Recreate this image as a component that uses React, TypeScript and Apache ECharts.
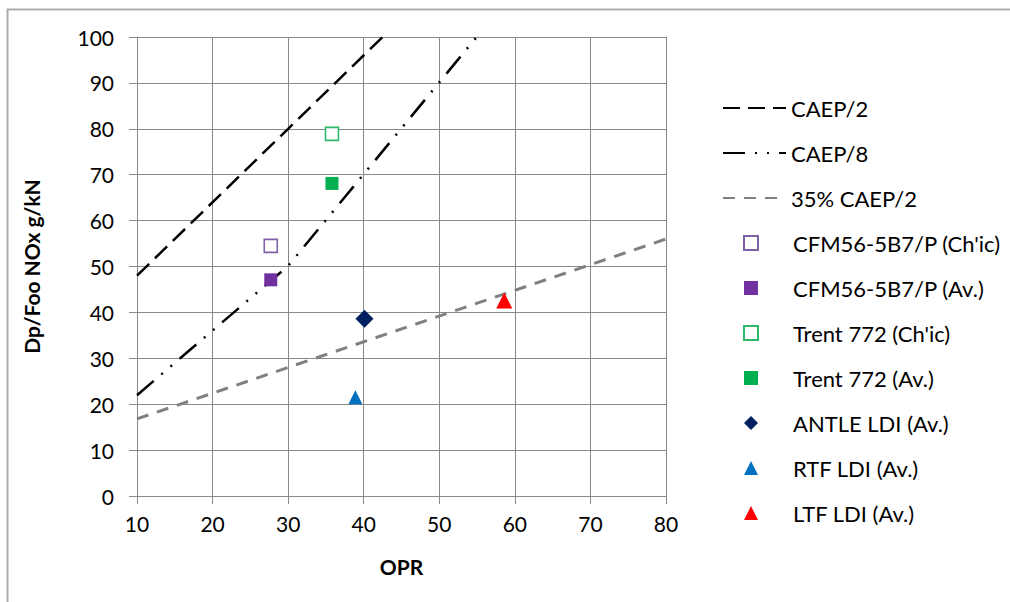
import React, { useEffect, useRef } from "react";
import * as echarts from "echarts";

// Regulatory lines (OPR, Dp/Foo)
const caep2: number[][] = [[10, 48], [30, 80], [42.5, 100]];
const caep8: number[][] = [[10, 21.96], [30, 50.12], [54.94, 100]];
const caep2x35: number[][] = [[10, 16.8], [30, 28], [80, 56]];

// Engine points
const cfmChar: number[][] = [[27.7, 54.5]];
const cfmAv: number[][] = [[27.7, 47.1]];
const trentChar: number[][] = [[35.8, 78.9]];
const trentAv: number[][] = [[35.8, 68.1]];
const antleAv: number[][] = [[40.1, 38.6]];
const rtfAv: number[][] = [[38.9, 21.5]];
const ltfAv: number[][] = [[58.6, 42.6]];

const lineNames = ["CAEP/2", "CAEP/8", "35% CAEP/2"];
const pointNames = [
  "CFM56-5B7/P (Ch'ic)",
  "CFM56-5B7/P (Av.)",
  "Trent 772 (Ch'ic)",
  "Trent 772 (Av.)",
  "ANTLE LDI (Av.)",
  "RTF LDI (Av.)",
  "LTF LDI (Av.)",
];

const FONT = "Lato";

export default function App() {
  const ref = useRef<HTMLDivElement>(null);
  useEffect(() => {
    if (!ref.current) return;
    const chart = echarts.init(ref.current, undefined, { renderer: "svg" });
    const gridColor = "#898989";
    const lineSeries = (name: string, data: number[][], color: string, width: number, dash: number[]) => ({
      name,
      type: "line",
      data,
      symbol: "none",
      showSymbol: false,
      clip: true,
      lineStyle: { color, width, type: dash, cap: "butt" },
      itemStyle: { color: "rgba(0,0,0,0)", borderColor: "rgba(0,0,0,0)", opacity: 0 },
      z: 2,
    });
    const scatter = (name: string, data: number[][], symbol: string, size: number, fill: string, border?: string) => ({
      name,
      type: "scatter",
      data,
      symbol,
      symbolSize: size,
      symbolKeepAspect: true,
      itemStyle: border
        ? { color: "#ffffff", borderColor: border, borderWidth: 1.6, opacity: 1 }
        : { color: fill, opacity: 1 },
      z: 5,
    });
    const legendText = { fontFamily: FONT, fontSize: 22, lineHeight: 22, color: "#000" };
    const legendTop = 92;
    chart.setOption({
      animation: false,
      backgroundColor: "#ffffff",
      textStyle: { fontFamily: FONT },
      graphic: [
        {
          type: "rect",
          shape: { x: 7.5, y: 9.5, width: 1200, height: 800 },
          style: { fill: "none", stroke: "#ADADAD", lineWidth: 2 },
          silent: true,
        },
      ],
      grid: { left: 137, right: 344, top: 37, bottom: 106 },
      legend: [
        {
          orient: "vertical",
          left: 717,
          top: legendTop,
          itemWidth: 63,
          itemHeight: 14,
          itemGap: 23,
          data: lineNames.map((n) => ({
            name: n,
            itemStyle: { color: "rgba(0,0,0,0)", borderColor: "rgba(0,0,0,0)", opacity: 0 },
          })),
          textStyle: legendText,
        },
        {
          orient: "vertical",
          left: 738,
          top: legendTop + 3 * 45,
          itemWidth: 14,
          itemHeight: 14,
          itemGap: 23,
          data: pointNames,
          textStyle: { ...legendText, padding: [0, 0, 0, 30] },
        },
      ],
      xAxis: {
        type: "value",
        min: 10,
        max: 80,
        interval: 10,
        name: "OPR",
        nameLocation: "middle",
        nameGap: 60,
        nameTextStyle: { fontFamily: FONT, fontSize: 21, fontWeight: "bold", color: "#000" },
        axisLine: { show: true, lineStyle: { color: gridColor, width: 1 } },
        axisTick: { show: true, length: 8, lineStyle: { color: gridColor } },
        axisLabel: { fontFamily: FONT, fontSize: 21, color: "#000", margin: 17 },
        splitLine: { show: true, lineStyle: { color: gridColor, width: 1 } },
      },
      yAxis: {
        type: "value",
        min: 0,
        max: 100,
        interval: 10,
        name: "Dp/Foo NOx g/kN",
        nameLocation: "middle",
        nameGap: 95,
        nameTextStyle: { fontFamily: FONT, fontSize: 21, fontWeight: "bold", color: "#000" },
        axisLine: { show: true, lineStyle: { color: gridColor, width: 1 } },
        axisTick: { show: true, length: 8, lineStyle: { color: gridColor } },
        axisLabel: { fontFamily: FONT, fontSize: 21, color: "#000", margin: 23 },
        splitLine: { show: true, lineStyle: { color: gridColor, width: 1 } },
      },
      series: [
        lineSeries(lineNames[0], caep2, "#000000", 2.5, [17, 8]),
        lineSeries(lineNames[1], caep8, "#000000", 2.5, [22, 10, 2, 10, 2, 10]),
        lineSeries(lineNames[2], caep2x35, "#808080", 3, [12, 9]),
        scatter(pointNames[0], cfmChar, "rect", 13, "#7030A0", "#8060A8"),
        scatter(pointNames[1], cfmAv, "rect", 13, "#7030A0"),
        scatter(pointNames[2], trentChar, "rect", 13, "#00B050", "#2DB86A"),
        scatter(pointNames[3], trentAv, "rect", 13, "#00B050"),
        scatter(pointNames[4], antleAv, "diamond", 18, "#002060"),
        scatter(pointNames[5], rtfAv, "triangle", 14, "#0070C0"),
        scatter(pointNames[6], ltfAv, "triangle", 16, "#FF0000"),
      ],
    });
    return () => chart.dispose();
  }, []);
  return (
    <div
      ref={ref}
      style={{ position: "absolute", left: 0, top: 0, width: 1010, height: 602, background: "#fff" }}
    />
  );
}
